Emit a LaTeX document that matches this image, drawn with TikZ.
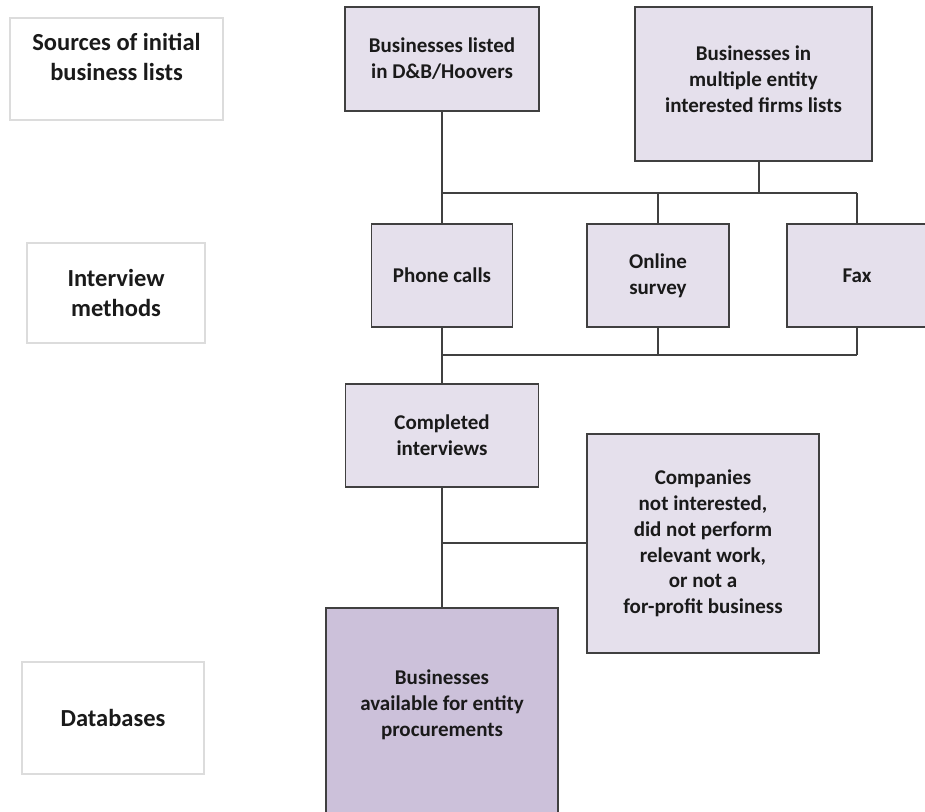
\documentclass[tikz,border=0pt]{standalone}
\usepackage{fontspec}
\setmainfont{Carlito}
\definecolor{boxfill}{HTML}{E5E0EC}
\definecolor{boxdark}{HTML}{CCC1DA}
\definecolor{edge}{HTML}{404040}
\definecolor{txt}{HTML}{1A1A1A}
\definecolor{faint}{HTML}{DCDCDC}
\tikzset{
  flowbox/.style={draw=edge, line width=1.8pt, fill=boxfill, align=center, inner sep=0pt,
    text=txt, font=\fontsize{21}{25.8}\selectfont\bfseries},
  labelbox/.style={draw=faint, line width=1.5pt, fill=white, align=center, inner sep=0pt,
    text=txt, font=\fontsize{24.5}{30}\selectfont\bfseries},
  txtonly/.style={align=center, inner sep=0pt, text=txt},
  conn/.style={draw=edge, line width=1.8pt}
}
\begin{document}
\begin{tikzpicture}[x=1pt,y=-1pt]
\useasboundingbox (0,0) rectangle (925,811);
\clip (0,0) rectangle (925,811);
\fill[white] (0,0) rectangle (925,811);

% left labels
\node[labelbox, minimum width=213pt, minimum height=102pt] (lab1) at (116.5,69) {};
\node[txtonly, font=\fontsize{24.5}{30}\selectfont\bfseries] (lab1t) at (116.5,57) {Sources of initial\\business lists};
\node[labelbox, minimum width=178pt, minimum height=100pt] (lab2) at (116,293) {Interview\\methods};
\node[labelbox, minimum width=182pt, minimum height=112pt] (lab3) at (113,718) {Databases};

% coordinates for junctions
\coordinate (t1) at (442,193);
\coordinate (t2) at (658,193);
\coordinate (t3) at (759,193);
\coordinate (t4) at (857,193);
\coordinate (b1) at (442,355);
\coordinate (b2) at (658,355);
\coordinate (b3) at (857,355);
\coordinate (c1) at (442,543);

% boxes
\node[flowbox, minimum width=194pt, minimum height=104pt] (db) at (442,59) {Businesses listed\\in D\&B/Hoovers};
\node[flowbox, minimum width=237pt, minimum height=154pt] (multi) at (753.5,84) {};
\node[txtonly, font=\fontsize{21}{25.8}\selectfont\bfseries] (multit) at (753.5,79) {Businesses in\\multiple entity\\interested firms lists};
\node[flowbox, minimum width=141pt, minimum height=103pt] (phone) at (442,275.5) {Phone calls};
\node[flowbox, minimum width=142pt, minimum height=103pt] (online) at (658,275.5) {Online\\survey};
\node[flowbox, minimum width=140pt, minimum height=103pt] (fax) at (857,275.5) {Fax};
\node[flowbox, minimum width=193pt, minimum height=103pt] (comp) at (442,435.5) {Completed\\interviews};
\node[flowbox, minimum width=232pt, minimum height=219pt] (notint) at (703,543.5) {Companies\\not interested,\\did not perform\\relevant work,\\or not a\\for-profit business};
\node[flowbox, fill=boxdark, minimum width=232pt, minimum height=222pt] (avail) at (442,719) {};
\node[txtonly, font=\fontsize{21}{25.8}\selectfont\bfseries] (availt) at (442,705) {Businesses\\available for entity\\procurements};

% connectors
\draw[conn] (db.south) -- (phone.north);
\draw[conn] (t1) -- (t4);
\draw[conn] (multi.south -| t3) -- (t3);
\draw[conn] (t2) -- (online.north);
\draw[conn] (t4) -- (fax.north);
\draw[conn] (phone.south) -- (comp.north);
\draw[conn] (b1) -- (b3);
\draw[conn] (online.south) -- (b2);
\draw[conn] (fax.south) -- (b3);
\draw[conn] (comp.south) -- (avail.north);
\draw[conn] (c1) -- (c1 -| notint.west);
\end{tikzpicture}
\end{document}
